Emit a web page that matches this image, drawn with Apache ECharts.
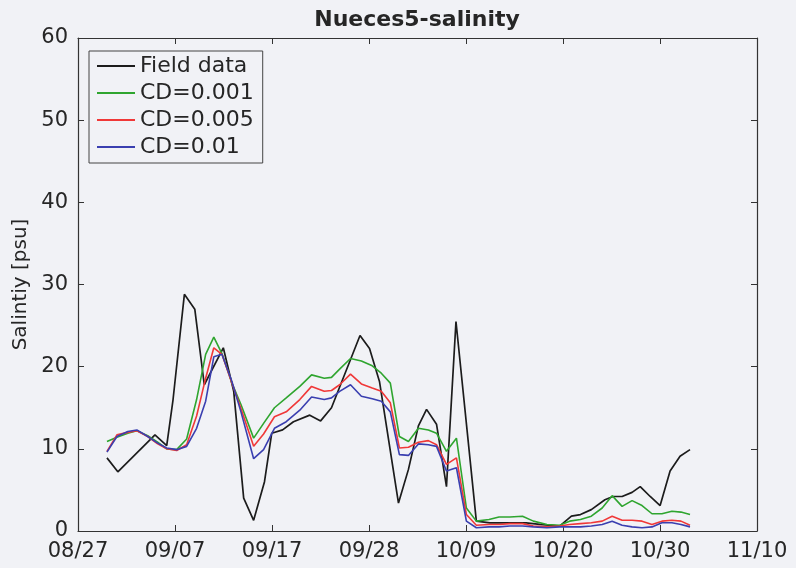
<!DOCTYPE html>
<html>
<head>
<meta charset="utf-8">
<script src="https://cdn.jsdelivr.net/npm/echarts@6/dist/echarts.min.js"></script>
<style>
html,body{margin:0;padding:0;background:#f1f2f6;}
#c{width:796px;height:568px;}
</style>
</head>
<body>
<div id="c"></div>
<script>
// x values are days since 08/27
const xTickLabels = ['08/27', '09/07', '09/17', '09/28', '10/09', '10/20', '10/30', '11/10'];
const yTicks = [0, 10, 20, 30, 40, 50, 60];

const fieldDays = [3.2, 4.4, 8.5, 9.8, 10.5, 11.75, 12.9, 13.95, 16.05, 17.2,
  18.3, 19.4, 20.6, 21.4, 22.6, 23.8, 25.6, 26.8, 28.0, 31.15,
  32.2, 33.3, 35.4, 36.5, 37.6, 38.5, 39.6, 40.7, 41.75, 44.0,
  45.5, 47.0, 49.5, 51.0, 53.2, 54.5, 55.5, 56.7, 58.2, 59.1,
  60.1, 61.2, 62.1, 63.2, 64.3, 65.4, 66.5, 67.6];
const fieldVals = [8.9, 7.2, 11.7, 10.4, 16.0, 28.8, 27.0, 17.8, 22.3, 17.0,
  4.0, 1.3, 6.0, 11.9, 12.3, 13.3, 14.1, 13.4, 15.0, 23.8,
  22.2, 18.2, 3.4, 7.5, 12.8, 14.8, 13.0, 5.4, 25.5, 1.2,
  1.0, 1.0, 1.0, 0.8, 0.6, 1.8, 2.0, 2.6, 3.8, 4.2,
  4.2, 4.7, 5.4, 4.2, 3.1, 7.3, 9.1, 9.9];

const modelDays = [3.2, 4.3, 5.5, 6.5, 7.7, 8.8, 9.8, 10.9, 12.0, 13.1,
  14.1, 15.0, 15.9, 17.0, 18.0, 19.4, 20.5, 21.7, 23.0, 24.5,
  25.8, 27.2, 28.0, 28.9, 30.1, 31.3, 32.5, 33.5, 34.5, 35.5,
  36.5, 37.6, 38.7, 39.6, 40.7, 41.8, 42.9, 44.0, 45.4, 46.5,
  47.7, 49.1, 50.3, 51.8, 53.2, 54.3, 55.5, 56.7, 57.9, 59.0,
  60.1, 61.2, 62.3, 63.4, 64.5, 65.6, 66.6, 67.6];
const cd001 = [10.9, 11.4, 11.9, 12.2, 11.6, 10.8, 10.0, 9.9, 11.2, 16.0,
  21.5, 23.6, 21.6, 18.0, 15.4, 11.3, 13.1, 15.0, 16.2, 17.6,
  19.0, 18.6, 18.7, 19.7, 21.0, 20.7, 20.1, 19.2, 18.0, 11.5,
  10.9, 12.5, 12.3, 11.9, 9.7, 11.3, 2.8, 1.2, 1.4, 1.7,
  1.7, 1.8, 1.2, 0.8, 0.7, 1.2, 1.4, 1.8, 2.8, 4.3,
  3.0, 3.7, 3.1, 2.1, 2.1, 2.4, 2.3, 2.0];
const cd005 = [9.7, 11.7, 12.0, 12.2, 11.5, 10.6, 10.0, 9.8, 10.5, 14.0,
  18.6, 22.3, 21.5, 18.0, 14.9, 10.3, 11.8, 13.9, 14.5, 16.0,
  17.6, 17.0, 17.1, 17.8, 19.1, 17.9, 17.4, 17.0, 15.6, 10.1,
  10.2, 10.8, 11.0, 10.5, 8.1, 8.9, 2.0, 0.7, 0.8, 0.8,
  0.9, 0.9, 0.6, 0.5, 0.6, 0.8, 0.9, 1.0, 1.2, 1.8,
  1.3, 1.3, 1.2, 0.8, 1.2, 1.3, 1.2, 0.7];
const cd01 = [9.6, 11.5, 12.1, 12.3, 11.5, 10.7, 10.1, 9.9, 10.3, 12.5,
  15.8, 21.2, 21.5, 18.2, 14.5, 8.8, 9.9, 12.5, 13.3, 14.7,
  16.3, 16.0, 16.2, 17.0, 17.8, 16.4, 16.1, 15.8, 14.5, 9.3,
  9.2, 10.6, 10.5, 10.3, 7.3, 7.7, 1.2, 0.4, 0.5, 0.5,
  0.6, 0.6, 0.5, 0.4, 0.5, 0.5, 0.5, 0.6, 0.8, 1.2,
  0.7, 0.5, 0.4, 0.5, 1.0, 1.0, 0.8, 0.5];

const xMax = 75;
const xStep = xMax / (xTickLabels.length - 1);
const pair = (xs, ys) => xs.map((x, i) => [x, ys[i]]);

const axisColor = '#333333';
const textColor = '#262626';
const font = 'DejaVu Sans';

const baseX = {
  type: 'value', min: 0, max: xMax, interval: xStep,
  axisLine: { show: true, onZero: false, lineStyle: { color: axisColor, width: 1.2 } },
  axisTick: { show: true, inside: true, length: 6, lineStyle: { color: axisColor } },
  splitLine: { show: false }
};
const baseY = {
  type: 'value', min: yTicks[0], max: yTicks[yTicks.length - 1], interval: yTicks[1] - yTicks[0],
  axisLine: { show: true, onZero: false, lineStyle: { color: axisColor, width: 1.2 } },
  axisTick: { show: true, inside: true, length: 6, lineStyle: { color: axisColor } },
  splitLine: { show: false }
};

const chart = echarts.init(document.getElementById('c'), null, { renderer: 'canvas' });
chart.setOption({
  backgroundColor: '#f1f2f6',
  animation: false,
  title: {
    text: 'Nueces5-salinity', left: 417, top: 9, textAlign: 'center', padding: 0,
    textStyle: { fontFamily: font, fontWeight: 'bold', fontSize: 22, color: textColor }
  },
  grid: { left: 78, right: 39, top: 38, bottom: 37, containLabel: false },
  legend: {
    orient: 'vertical', left: 89, top: 51,
    padding: [4, 9, 5, 8],
    itemGap: 5, itemWidth: 38, itemHeight: 2, itemTextGap: 3,
    icon: 'rect',
    borderColor: '#444', borderWidth: 1, backgroundColor: 'transparent',
    textStyle: { fontFamily: font, fontSize: 22, color: textColor, lineHeight: 22 },
    data: ['Field data', 'CD=0.001', 'CD=0.005', 'CD=0.01']
  },
  xAxis: [
    Object.assign({}, baseX, {
      position: 'bottom',
      axisLabel: {
        show: true, margin: 10, fontFamily: font, fontSize: 21, color: textColor,
        formatter: v => xTickLabels[Math.round(v / xStep)]
      }
    }),
    Object.assign({}, baseX, { position: 'top', axisLabel: { show: false } })
  ],
  yAxis: [
    Object.assign({}, baseY, {
      position: 'left',
      name: 'Salintiy [psu]', nameLocation: 'middle', nameGap: 36,
      nameTextStyle: { fontFamily: font, fontSize: 20, color: textColor },
      axisLabel: { show: true, margin: 10, fontFamily: font, fontSize: 21, color: textColor }
    }),
    Object.assign({}, baseY, { position: 'right', axisLabel: { show: false } })
  ],
  series: [
    { name: 'Field data', type: 'line', data: pair(fieldDays, fieldVals), showSymbol: false,
      color: '#1c1c1c', lineStyle: { width: 1.7, color: '#1c1c1c' } },
    { name: 'CD=0.001', type: 'line', data: pair(modelDays, cd001), showSymbol: false,
      color: '#2fa52f', lineStyle: { width: 1.6, color: '#2fa52f' } },
    { name: 'CD=0.005', type: 'line', data: pair(modelDays, cd005), showSymbol: false,
      color: '#f03838', lineStyle: { width: 1.6, color: '#f03838' } },
    { name: 'CD=0.01', type: 'line', data: pair(modelDays, cd01), showSymbol: false,
      color: '#3a3fb0', lineStyle: { width: 1.6, color: '#3a3fb0' } }
  ]
});
</script>
</body>
</html>
